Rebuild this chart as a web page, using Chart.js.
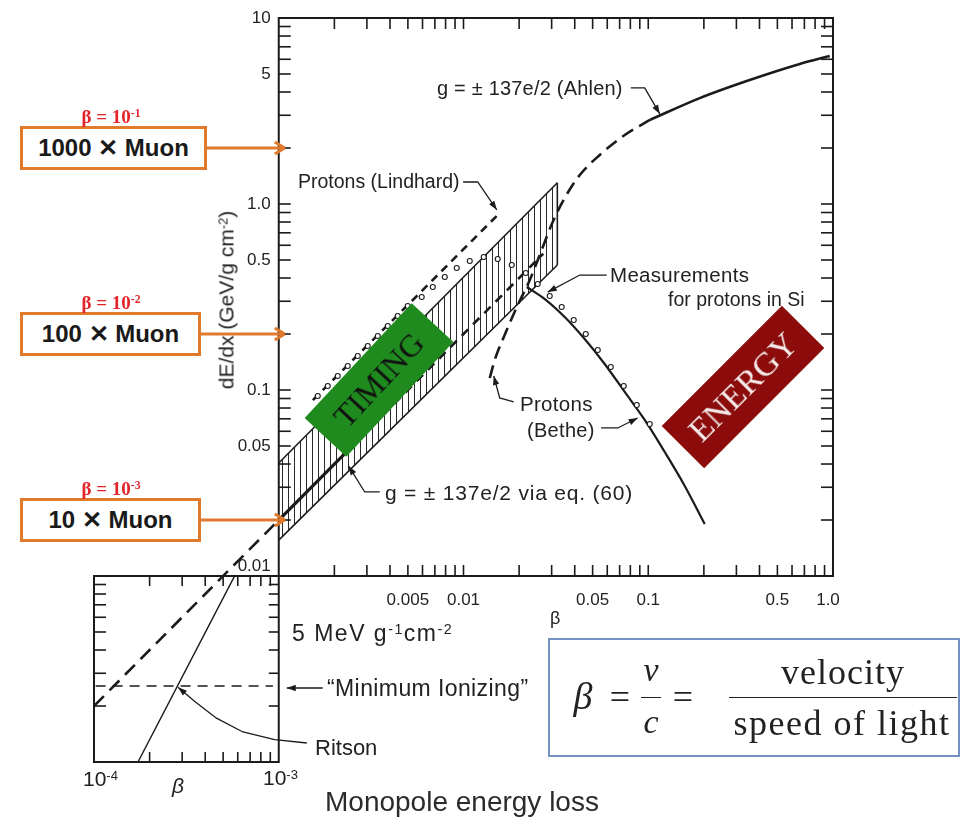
<!DOCTYPE html>
<html>
<head>
<meta charset="utf-8">
<script src="https://cdn.jsdelivr.net/npm/chart.js@4.4.1/dist/chart.umd.min.js"></script>
<style>
  html,body{margin:0;padding:0;background:#fff;}
  #wrap{position:relative;width:973px;height:817px;overflow:hidden;font-family:"Liberation Sans",Arial,Helvetica,sans-serif;color:#222;}
  #c{position:absolute;left:0;top:0;}
  .lbl{position:absolute;white-space:nowrap;line-height:1;transform:translateY(-50%);}
  sup{font-size:.62em;position:relative;top:-.5em;vertical-align:baseline;}
  .obox{position:absolute;box-sizing:border-box;border:3px solid #e07b2e;background:#fff;
        font:bold 24px "Liberation Sans",Arial,sans-serif;color:#1a1a1a;display:flex;align-items:center;justify-content:center;}
  .beta{position:absolute;font:bold 19px "Liberation Serif","Times New Roman",serif;color:#e3242b;
        transform:translate(-50%,-50%);white-space:nowrap;line-height:1;}
  .tag{position:absolute;display:flex;align-items:center;justify-content:center;
       font-family:"Liberation Serif","Times New Roman",serif;transform:translate(-50%,-50%) rotate(var(--a));}
  #ytitle{position:absolute;left:226px;top:300px;transform:translate(-50%,-50%) rotate(-90deg);font-size:21px;white-space:nowrap;line-height:1;}
  #formula{position:absolute;left:548px;top:638px;width:412px;height:119px;box-sizing:border-box;border:2px solid #7392c0;
           font-family:"Liberation Serif","Times New Roman",serif;color:#222;}
  #formula span{position:absolute;white-space:nowrap;line-height:1;transform:translate(-50%,-50%);}
  #formula .bar{height:0;border-top:1.6px solid #222;transform:none;}
</style>
</head>
<body>
<div id="wrap">
  <canvas id="c" width="973" height="817"></canvas>
</div>
<script>
// dE/dx (GeV/g cm^-2) against beta
const BAND_UPPER   = [[0.001, 0.0405], [0.0322, 1.30]];
const BAND_LOWER   = [[0.001, 0.0156], [0.0322, 0.47]];
const BAND_EDGE    = [[0.0322, 0.47], [0.0322, 1.30]];
const EQ60_SOLID   = [[0.001, 0.020], [0.0024, 0.048]];
const EQ60_DASHED  = [[0.0024, 0.048], [0.027, 0.54]];
const EQ60_LOWBETA = [[0.0001, 0.0020], [0.001, 0.020]];
const LINDHARD     = [[0.00153, 0.0883], [0.0157, 0.895]];
const AHLEN_SOLID  = [[0.102, 2.83], [0.190, 3.71], [0.354, 4.64], [0.661, 5.66], [0.960, 6.25]];
const AHLEN_DASHED = [[0.01387, 0.116], [0.01476, 0.145], [0.01672, 0.198], [0.01942, 0.279], [0.02284, 0.390],
                      [0.02587, 0.532], [0.0304, 0.800], [0.0353, 1.077], [0.0426, 1.432], [0.0546, 1.834],
                      [0.0746, 2.35], [0.102, 2.83]];
const BETHE        = [[0.02199, 0.358], [0.02754, 0.3084], [0.0353, 0.247], [0.0453, 0.188], [0.0581, 0.138],
                      [0.0746, 0.0976], [0.0957, 0.069], [0.1228, 0.0464], [0.1576, 0.0305], [0.2022, 0.01904]];
const PROTON_SI    = [[0.001626, 0.0928], [0.001842, 0.1051], [0.002086, 0.1189], [0.002363, 0.1346], [0.002677, 0.1524],
                      [0.003032, 0.1724], [0.003435, 0.1952], [0.00389, 0.2209], [0.004406, 0.250], [0.004992, 0.2829],
                      [0.00594, 0.316], [0.00682, 0.358], [0.00792, 0.405], [0.00919, 0.453], [0.01081, 0.494],
                      [0.01287, 0.519], [0.01532, 0.506], [0.01825, 0.470], [0.02172, 0.4256], [0.02522, 0.3715],
                      [0.02929, 0.320], [0.0340, 0.2794], [0.0395, 0.2378], [0.0459, 0.200], [0.0533, 0.1641],
                      [0.0627, 0.133], [0.0737, 0.1051], [0.0867, 0.0831], [0.1019, 0.0657]];
const RITSON       = [[0.000173, 0.0010], [0.00058, 0.0101]];
const MIN_IONIZING = [[0.000102, 0.00256], [0.00093, 0.00256]];

// axes
const MANT         = [2, 3, 4, 5, 6, 7, 8, 9];
const MAIN_X_DEC   = [0.001, 0.01, 0.1];
const MAIN_Y_DEC   = [0.01, 0.1, 1];
const X_LABELS     = [[0.005, '0.005'], [0.01, '0.01'], [0.05, '0.05'], [0.1, '0.1'], [0.5, '0.5'], [1, '1.0']];
const Y_LABELS     = [[10, '10'], [5, '5'], [1, '1.0'], [0.5, '0.5'], [0.1, '0.1'], [0.05, '0.05'], [0.01, '0.01']];

// muon comparison levels on the dE/dx axis
const MUON_LEVEL   = [2, 0.2, 0.02];
const MUON_TEXT    = ['1000', '100', '10'];
const MUON_BETA    = ['-1', '-2', '-3'];

// leader arrows, in (beta, dE/dx); arrowhead at the last point
const LEADERS = [
  [[0.0805, 4.21], [0.0957, 4.21], [0.1154, 3.05]],
  [[0.00995, 1.313], [0.01194, 1.313], [0.01514, 0.93]],
  [[0.0596, 0.415], [0.0426, 0.415], [0.02858, 0.336]],
  [[0.0187, 0.0862], [0.0157, 0.0906], [0.01458, 0.1189]],
  [[0.0556, 0.0625], [0.0684, 0.0625], [0.0877, 0.0707]],
  [[0.00352, 0.0283], [0.00292, 0.0283], [0.00239, 0.039]],
  [[0.00173, 0.0025], [0.001105, 0.0025]],
  [[0.001418, 0.001265], [0.00095, 0.00132], [0.00064, 0.00145], [0.00046, 0.00172], [0.00035, 0.00212], [0.000285, 0.00252]]
];

const INK = '#1b1b1b';
const ORANGE = '#e07b2e';

const pts = a => a.map(([x, y]) => ({x, y}));
function line(data, opt) {
  return Object.assign({data: pts(data), borderColor: INK, borderWidth: 2.2, pointRadius: 0,
                        fill: false, order: 1, tension: 0}, opt);
}

// vertical hatching for the g = 137e/2 band
const canvas = document.getElementById('c');
const tile = document.createElement('canvas');
tile.width = 6; tile.height = 8;
const tg = tile.getContext('2d');
tg.fillStyle = '#2a2a2a'; tg.fillRect(0, 0, 1, 8);
const HATCH = canvas.getContext('2d').createPattern(tile, 'repeat');

function arrowHead(ctx, x0, y0, x1, y1, len, half) {
  const a = Math.atan2(y1 - y0, x1 - x0);
  ctx.beginPath();
  ctx.moveTo(x1, y1);
  ctx.lineTo(x1 - len * Math.cos(a) + half * Math.sin(a), y1 - len * Math.sin(a) - half * Math.cos(a));
  ctx.lineTo(x1 - len * Math.cos(a) - half * Math.sin(a), y1 - len * Math.sin(a) + half * Math.cos(a));
  ctx.closePath();
  ctx.fill();
}

const framePlug = {
  id: 'frames',
  afterDatasetsDraw(chart) {
    const {ctx} = chart;
    const X = v => chart.scales.x.getPixelForValue(v);
    const Y = v => chart.scales.y.getPixelForValue(v);
    ctx.save();
    ctx.strokeStyle = INK; ctx.fillStyle = INK;

    // frames: main plot and low-beta inset
    ctx.lineWidth = 2;
    ctx.strokeRect(X(1e-3), Y(10), X(1) - X(1e-3), Y(0.01) - Y(10));
    ctx.strokeRect(X(1e-4), Y(0.01), X(1e-3) - X(1e-4), Y(1e-3) - Y(0.01));

    // inward ticks
    ctx.lineWidth = 1.6;
    const seg = (a, b, c, d) => { ctx.beginPath(); ctx.moveTo(a, b); ctx.lineTo(c, d); ctx.stroke(); };
    const xt = [], yt = [];
    MAIN_X_DEC.forEach(d => { MANT.forEach(m => xt.push(d * m)); xt.push(d * 10); });
    MAIN_Y_DEC.forEach(d => { MANT.forEach(m => yt.push(d * m)); yt.push(d * 10); });
    xt.forEach(v => {
      if (v >= 0.999) return;
      seg(X(v), Y(0.01), X(v), Y(0.01) - 11);
      seg(X(v), Y(10), X(v), Y(10) + 11);
    });
    yt.forEach(v => {
      if (v >= 9.99) return;
      seg(X(1e-3), Y(v), X(1e-3) + 12, Y(v));
      seg(X(1), Y(v), X(1) - 12, Y(v));
    });
    MANT.forEach(m => {
      const bx = 1e-4 * m, by = 1e-3 * m;
      seg(X(bx), Y(1e-3), X(bx), Y(1e-3) - 10);
      seg(X(bx), Y(0.01), X(bx), Y(0.01) + 10);
      seg(X(1e-4), Y(by), X(1e-4) + 12, Y(by));
      seg(X(1e-3), Y(by), X(1e-3) - 10, Y(by));
    });

    // tick labels
    ctx.font = '17px "Liberation Sans", Arial, sans-serif';
    ctx.fillStyle = '#222';
    ctx.textAlign = 'right'; ctx.textBaseline = 'middle';
    Y_LABELS.forEach(([v, t]) => ctx.fillText(t, X(1e-3) - 8, Y(v) - (v <= 0.01 ? 10 : 0)));
    ctx.textAlign = 'center'; ctx.textBaseline = 'top';
    X_LABELS.forEach(([v, t]) => ctx.fillText(t, X(v) - (v >= 1 ? 5 : 0), Y(0.01) + 16));

    // leader arrows
    ctx.fillStyle = INK; ctx.lineWidth = 1.3;
    LEADERS.forEach(path => {
      const p = path.map(([b, e]) => [X(b), Y(e)]);
      ctx.beginPath();
      ctx.moveTo(p[0][0], p[0][1]);
      p.slice(1).forEach(q => ctx.lineTo(q[0], q[1]));
      ctx.stroke();
      const n = p.length;
      arrowHead(ctx, p[n - 2][0], p[n - 2][1], p[n - 1][0], p[n - 1][1], 9, 3.2);
    });

    // orange arrows from the muon boxes to the axis
    ctx.strokeStyle = ORANGE; ctx.lineWidth = 3;
    MUON_LEVEL.forEach((v, i) => {
      const y = Y(v), x0 = i === 0 ? 207 : 201, x1 = X(1e-3) + 6;
      seg(x0, y, x1, y);
      seg(x1, y, x1 - 10, y - 6);
      seg(x1, y, x1 - 10, y + 6);
    });
    ctx.restore();
  }
};

const chart = new Chart(canvas, {
  type: 'line',
  plugins: [framePlug],
  data: {
    datasets: [
      {data: pts(PROTON_SI), showLine: false, pointRadius: 2.5, pointBorderWidth: 1.1,
       pointBorderColor: INK, pointBackgroundColor: '#fff', order: 0},
      line(BAND_UPPER, {borderWidth: 1.6, order: 5}),
      line(BAND_LOWER, {borderWidth: 1.6, order: 5, fill: '-1', backgroundColor: HATCH}),
      line(BAND_EDGE, {borderWidth: 1.6, order: 5}),
      line(EQ60_SOLID, {borderWidth: 3.2}),
      line(EQ60_DASHED, {borderWidth: 2.6, borderDash: [9, 7]}),
      line(EQ60_LOWBETA, {borderWidth: 2.6, borderDash: [14, 8]}),
      line(LINDHARD, {borderWidth: 2.6, borderDash: [8, 6]}),
      line(AHLEN_SOLID, {borderWidth: 2.6, cubicInterpolationMode: 'monotone'}),
      line(AHLEN_DASHED, {borderWidth: 2.6, borderDash: [13, 7], cubicInterpolationMode: 'monotone'}),
      line(BETHE, {borderWidth: 2.2, cubicInterpolationMode: 'monotone'}),
      line(RITSON, {borderWidth: 1.4}),
      line(MIN_IONIZING, {borderWidth: 1.5, borderDash: [10, 7]})
    ]
  },
  options: {
    responsive: false, animation: false, events: [],
    layout: {padding: {left: 94, right: 140, top: 18, bottom: 55}},
    scales: {
      x: {type: 'logarithmic', min: 1e-4, max: 1, display: false},
      y: {type: 'logarithmic', min: 1e-3, max: 10, display: false}
    },
    plugins: {legend: {display: false}, tooltip: {enabled: false}}
  }
});

// ---- text and overlays ----
const wrap = document.getElementById('wrap');
function add(cls, html, css) {
  const d = document.createElement('div');
  d.className = cls; d.innerHTML = html;
  Object.assign(d.style, css);
  wrap.appendChild(d);
  return d;
}

// [text, left, centre y, font px, letter spacing]
const TEXTS = [
  ['g = ± 137e/2 (Ahlen)', 437, 88, 20, 0.2],
  ['Protons (Lindhard)', 298, 182, 19.5, 0],
  ['Measurements', 610, 275, 20.5, 0.3],
  ['for protons in Si', 668, 300, 19.5, 0],
  ['Protons', 520, 404, 20.5, 0.3],
  ['(Bethe)', 527, 430, 20, 0.3],
  ['g = ± 137e/2 via eq. (60)', 385, 492, 21, 0.8],
  ['5 MeV g<sup>-1</sup>cm<sup>-2</sup>', 292, 633, 23, 1.5],
  ['“Minimum Ionizing”', 327, 688, 23, 0.4],
  ['Ritson', 315, 748, 22, 0],
  ['10<sup>-4</sup>', 83, 778, 21, 0],
  ['<i>β</i>', 172, 785, 21, 0],
  ['10<sup>-3</sup>', 263, 777, 21, 0],
  ['β', 550, 618, 18, 0],
  ['Monopole energy loss', 325, 802, 28, 0]
];
TEXTS.forEach(([t, x, y, s, ls]) => add('lbl', t, {left: x + 'px', top: y + 'px', fontSize: s + 'px',
  letterSpacing: ls + 'px', color: s === 28 ? '#2b2b2b' : '#222'}));

add('', 'dE/dx (GeV/g cm<sup>-2</sup>)', {}).id = 'ytitle';

// muon boxes, placed on the scale levels
const ys = chart.scales.y;
MUON_LEVEL.forEach((v, i) => {
  const y = ys.getPixelForValue(v);
  const w = i === 0 ? 187 : 181, h = 44;
  add('obox', MUON_TEXT[i] + ' ✕ Muon', {left: '20px', top: (y - h / 2) + 'px', width: w + 'px', height: h + 'px'});
  add('beta', 'β = 10<sup>' + MUON_BETA[i] + '</sup>', {left: '111px', top: (y - h / 2 - 10) + 'px'});
});

// rotated TIMING / ENERGY tags
add('tag', 'TIMING', {left: '379px', top: '380px', width: '157px', height: '57px', background: '#1f8b1f',
  color: '#111', fontSize: '32px'}).style.setProperty('--a', '-47deg');
add('tag', 'ENERGY', {left: '743px', top: '387px', width: '170px', height: '60px', background: '#8c0c0c',
  color: '#f4eaea', fontSize: '34px'}).style.setProperty('--a', '-45deg');

// beta = v/c box
const f = add('', '', {});
f.id = 'formula';
f.innerHTML =
  '<span style="left:33px;top:56px;font-size:38px;font-style:italic">β</span>' +
  '<span style="left:70px;top:57px;font-size:36px">=</span>' +
  '<span style="left:101px;top:30px;font-size:34px;font-style:italic">v</span>' +
  '<div class="bar" style="position:absolute;left:91px;top:57px;width:20px"></div>' +
  '<span style="left:101px;top:82px;font-size:34px;font-style:italic">c</span>' +
  '<span style="left:133px;top:57px;font-size:36px">=</span>' +
  '<span style="left:293px;top:32px;font-size:36px;letter-spacing:1px">velocity</span>' +
  '<div class="bar" style="position:absolute;left:179px;top:57px;width:228px"></div>' +
  '<span style="left:292px;top:83px;font-size:36px;letter-spacing:1.5px">speed of light</span>';
</script>
</body>
</html>
